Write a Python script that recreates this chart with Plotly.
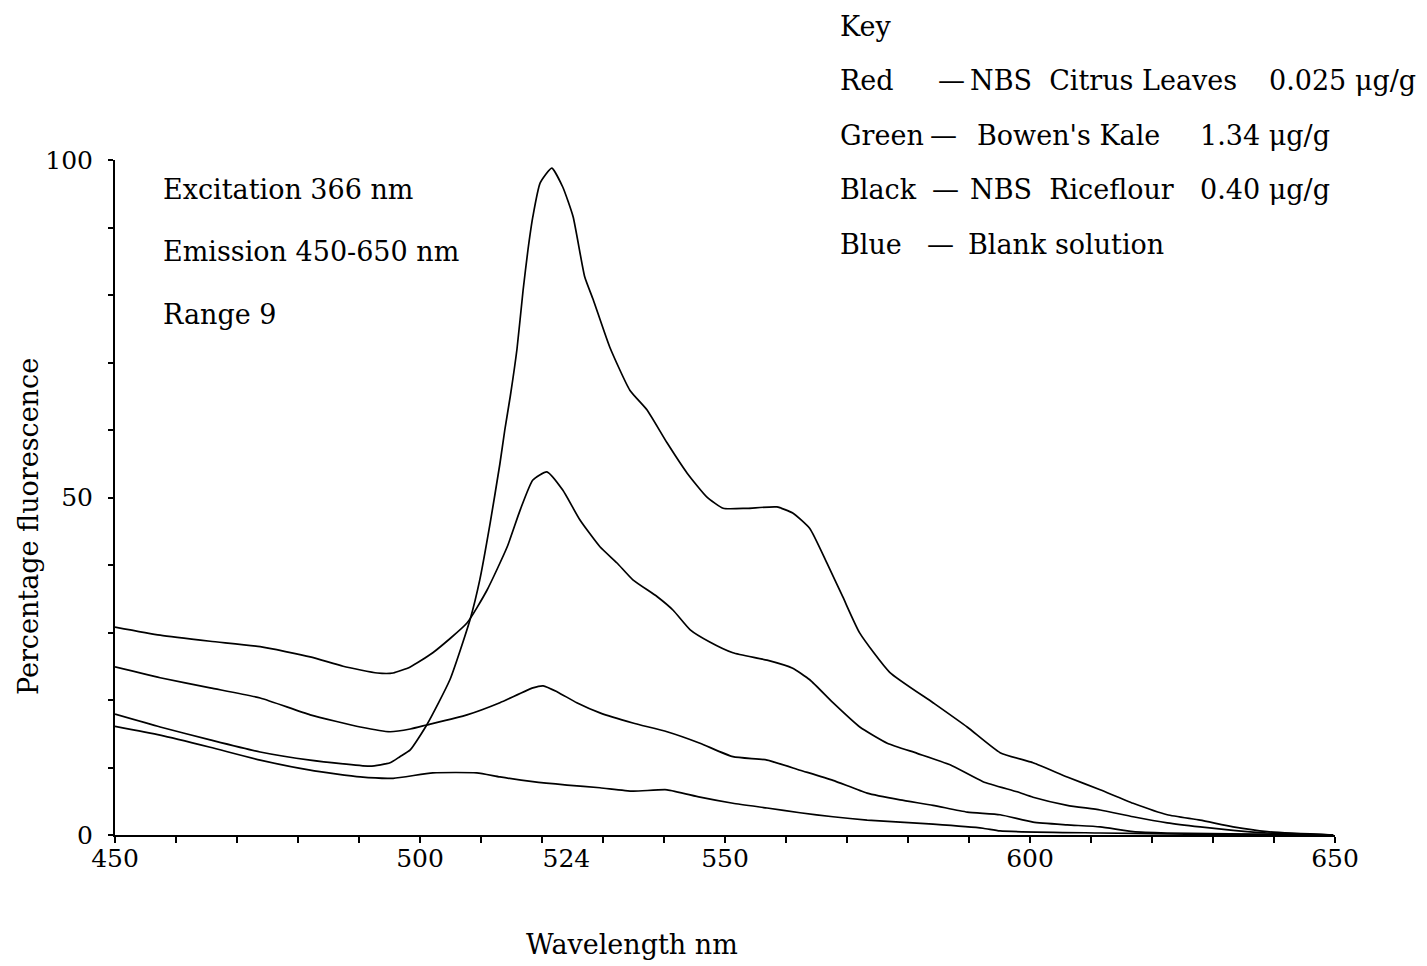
import plotly.graph_objects as go

# ---- data (wavelength nm, % fluorescence) ----
wl_a = [450.0, 457.4, 465.6, 473.8, 482.0, 491.8, 495.1, 496.7, 498.4, 501.1, 504.9, 508.2, 509.8,
        511.5, 513.1, 513.9, 514.8, 515.9, 516.9, 517.7, 518.5, 519.7, 521.6, 523.4, 525.1, 527.0,
        528.4, 531.1, 534.4, 537.2, 540.5, 543.8, 547.0, 549.7, 553.6, 558.5, 561.1, 563.9, 566.7,
        569.3, 572.1, 577.0, 584.1, 589.7, 595.1, 600.5, 606.1, 611.5, 616.9, 622.5, 627.9, 633.3,
        638.9, 649.7]
fl_a = [17.9, 16.0, 14.1, 12.3, 11.1, 10.2, 10.7, 11.6, 12.6, 16.3, 23.0, 31.9, 37.8,
        46.2, 55.0, 60.0, 65.0, 72.0, 80.7, 86.7, 91.6, 96.6, 98.8, 96.0, 91.6, 82.7,
        79.3, 72.3, 65.9, 63.0, 58.1, 53.6, 50.1, 48.4, 48.4, 48.6, 47.7, 45.4, 40.3,
        35.3, 29.9, 24.1, 19.6, 16.0, 12.2, 10.7, 8.6, 6.7, 4.7, 3.0, 2.2, 1.2,
        0.5, 0.0]

wl_b = [450.0, 457.4, 465.6, 473.8, 482.0, 487.4, 493.0, 495.6, 498.4, 502.1, 507.7, 511.0, 514.3,
        516.4, 518.5, 520.8, 523.4, 526.2, 529.5, 532.3, 534.9, 538.9, 541.5, 544.3, 547.5, 551.3,
        556.9, 561.1, 563.9, 567.7, 572.1, 576.6, 581.5, 586.9, 592.3, 597.9, 600.5, 606.1, 611.5,
        616.9, 622.5, 627.9, 633.3, 638.9, 649.7]
fl_b = [30.8, 29.6, 28.7, 27.9, 26.4, 25.0, 24.0, 24.0, 24.9, 27.0, 31.4, 36.3, 42.7,
        48.1, 52.6, 53.8, 51.1, 46.7, 42.7, 40.3, 37.8, 35.3, 33.3, 30.4, 28.6, 27.0,
        25.9, 24.7, 23.0, 19.6, 16.0, 13.6, 12.1, 10.4, 7.9, 6.4, 5.6, 4.4, 3.7,
        2.7, 1.8, 1.2, 0.7, 0.3, 0.0]

wl_c = [450.0, 457.4, 465.6, 473.8, 482.0, 490.2, 495.1, 498.4, 501.1, 507.7, 513.1, 518.5, 520.2,
        522.5, 525.7, 529.5, 534.9, 540.5, 545.9, 551.3, 556.9, 562.3, 567.7, 573.3, 578.7, 584.1,
        589.7, 595.1, 600.5, 606.1, 611.5, 616.9, 622.5, 649.7]
fl_c = [24.9, 23.3, 21.8, 20.3, 17.8, 16.0, 15.3, 15.7, 16.3, 17.8, 19.6, 21.8, 22.1,
        21.2, 19.6, 18.1, 16.6, 15.3, 13.6, 11.6, 11.1, 9.6, 8.1, 6.2, 5.2, 4.4,
        3.4, 3.0, 1.9, 1.5, 1.2, 0.5, 0.3, 0.0]

wl_d = [450.0, 457.4, 465.6, 473.8, 482.0, 490.2, 495.6, 502.1, 509.3, 513.1, 518.5, 524.1, 529.5,
        534.9, 540.5, 545.9, 551.3, 556.9, 562.3, 567.7, 573.3, 578.7, 584.1, 592.3, 595.1, 611.5,
        627.9, 649.7]
fl_d = [16.1, 14.8, 13.0, 11.1, 9.6, 8.6, 8.4, 9.2, 9.2, 8.6, 7.9, 7.4, 7.0,
        6.5, 6.7, 5.6, 4.7, 4.0, 3.3, 2.7, 2.2, 1.9, 1.6, 1.0, 0.6, 0.3,
        0.1, 0.0]

x_tick_vals = [450, 500, 524, 550, 600, 650]
x_tick_text = ["450", "500", "524", "550", "600", "650"]
y_tick_vals = [0, 50, 100]
y_tick_text = ["0", "50", "100"]

info_lines = ["Excitation 366 nm", "Emission 450-650 nm", "Range 9"]
key_title = "Key"
key_colours = ["Red", "Green", "Black", "Blue"]
key_samples = ["NBS  Citrus Leaves", "Bowen's Kale", "NBS  Riceflour", "Blank solution"]
key_conc = ["0.025 μg/g", "1.34 μg/g", "0.40 μg/g", ""]

# ---- layout geometry (pixels) ----
W, H = 1427, 966
L, R, T, B = 115, 1335, 160, 835
FONT = "DejaVu Serif"
FS = 27       # body text
FT = 25       # tick labels


def px(xp):
    return (xp - L) / (R - L)


def py(yp):
    return (B - yp) / (B - T)


fig = go.Figure()
for xs, ys in [(wl_a, fl_a), (wl_b, fl_b), (wl_c, fl_c), (wl_d, fl_d)]:
    fig.add_trace(go.Scatter(x=xs, y=ys, mode="lines",
                             line=dict(color="black", width=1.7, shape="spline", smoothing=0.5),
                             showlegend=False, hoverinfo="skip"))

f = dict(family=FONT, size=FS, color="black")
annotations = []
for i, t in enumerate(info_lines):
    annotations.append(dict(text=t, x=px(161), y=py(190 + 62 * i), xref="paper", yref="paper",
                            xanchor="left", yanchor="middle", showarrow=False, font=f))
annotations.append(dict(text=key_title, x=px(838), y=py(27), xref="paper", yref="paper",
                        xanchor="left", yanchor="middle", showarrow=False, font=f))
row_y = [80, 135, 190, 245]
dash_x = [936, 928, 930, 925]
sample_x = [968, 975, 968, 966]
for i in range(4):
    annotations.append(dict(text=key_colours[i], x=px(838), y=py(row_y[i]), xref="paper", yref="paper",
                            xanchor="left", yanchor="middle", showarrow=False, font=f))
    annotations.append(dict(text="—", x=px(dash_x[i]), y=py(row_y[i]), xref="paper", yref="paper",
                            xanchor="left", yanchor="middle", showarrow=False, font=f))
    annotations.append(dict(text=key_samples[i], x=px(sample_x[i]), y=py(row_y[i]), xref="paper",
                            yref="paper", xanchor="left", yanchor="middle", showarrow=False, font=f))
conc_pos = [(1418, "right"), (1198, "left"), (1198, "left")]
for i, (cx, anc) in enumerate(conc_pos):
    annotations.append(dict(text=key_conc[i], x=px(cx), y=py(row_y[i]), xref="paper",
                            yref="paper", xanchor=anc, yanchor="middle", showarrow=False, font=f))

annotations.append(dict(text="Percentage fluorescence", x=px(28), y=py(527), xref="paper", yref="paper",
                        xanchor="center", yanchor="middle", textangle=-90, showarrow=False, font=f))
annotations.append(dict(text="Wavelength nm", x=px(632), y=py(944), xref="paper", yref="paper",
                        xanchor="center", yanchor="middle", showarrow=False, font=f))

fig.update_layout(
    width=W, height=H,
    margin=dict(l=L, r=W - R, t=T, b=H - B, pad=0),
    paper_bgcolor="white", plot_bgcolor="white",
    font=dict(family=FONT, size=FS, color="black"),
    annotations=annotations,
    xaxis=dict(range=[450, 650], showgrid=False, zeroline=False,
               showline=True, linecolor="black", linewidth=2,
               tickmode="array", tickvals=x_tick_vals, ticktext=x_tick_text,
               ticks="outside", ticklen=0, tickcolor="black",
               minor=dict(dtick=10, tick0=450, ticks="outside", ticklen=6, tickwidth=1.5,
                          tickcolor="black", showgrid=False),
               tickfont=dict(family=FONT, size=FT, color="black")),
    yaxis=dict(range=[0, 100], showgrid=False, zeroline=False,
               showline=True, linecolor="black", linewidth=2,
               tickmode="array", tickvals=y_tick_vals, ticktext=y_tick_text,
               ticks="outside", ticklen=5, tickwidth=1.5, tickcolor="black",
               ticklabelstandoff=10,
               minor=dict(dtick=10, tick0=0, ticks="outside", ticklen=5, tickwidth=1.5,
                          tickcolor="black", showgrid=False),
               tickfont=dict(family=FONT, size=FT, color="black")),
)

fig.write_html("out.html")
